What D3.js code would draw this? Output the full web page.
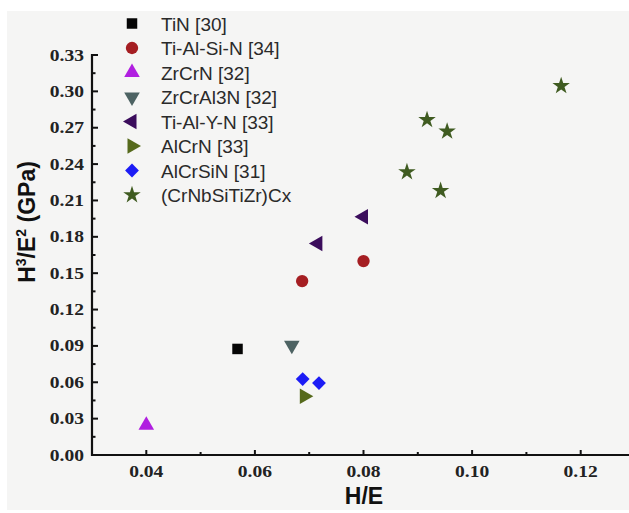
<!DOCTYPE html>
<html>
<head>
<meta charset="utf-8">
<script src="https://cdn.jsdelivr.net/npm/d3@7"></script>
<style>
  html, body { margin: 0; padding: 0; background: #fff; }
  svg { display: block; }
  .tick-label { font-family: "Liberation Serif", "Times New Roman", serif; font-weight: bold; font-size: 17px; fill: #222; }
  .axis-title { font-family: "Liberation Sans", Arial, sans-serif; font-weight: bold; font-size: 23px; fill: #111; }
  .legend-text { font-family: "Liberation Sans", Arial, sans-serif; font-size: 19px; fill: #2a2a2a; }
</style>
</head>
<body>
<div id="chart"></div>
<script>
// series
const seriesNames = ['TiN [30]', 'Ti-Al-Si-N [34]', 'ZrCrN [32]', 'ZrCrAl3N [32]', 'Ti-Al-Y-N [33]', 'AlCrN [33]', 'AlCrSiN [31]', '(CrNbSiTiZr)Cx'];
const seriesColors = ['#050505', '#a51e22', '#b01fe0', '#4d6363', '#3b0d5c', '#566a1c', '#1c1cf5', '#3f5b20'];
const seriesShapes = ['square', 'circle', 'up', 'down', 'left', 'right', 'diamond', 'star'];

// values (H/E, H^3/E^2)
const xValues = [
  [0.0568],
  [0.0687, 0.0800],
  [0.0400],
  [0.0668],
  [0.0716, 0.0800],
  [0.0691],
  [0.0688, 0.0718],
  [0.0880, 0.0917, 0.0954, 0.0942, 0.1164]
];
const yValues = [
  [0.0875],
  [0.1435, 0.1600],
  [0.0245],
  [0.0905],
  [0.1745, 0.1965],
  [0.0485],
  [0.0626, 0.0593],
  [0.2335, 0.2765, 0.2670, 0.2180, 0.3045]
];

const xTicks = [0.04, 0.06, 0.08, 0.10, 0.12];
const yTicks = [0, 0.03, 0.06, 0.09, 0.12, 0.15, 0.18, 0.21, 0.24, 0.27, 0.30, 0.33];

const width = 629;
const height = 513;

const x = d3.scaleLinear().domain([0.03, 0.13]).range([92, 635]);
const y = d3.scaleLinear().domain([0, 0.33]).range([455, 55]);

const svg = d3.select('#chart').append('svg')
  .attr('width', width)
  .attr('height', height);

// paper background
svg.append('rect')
  .attr('x', 7).attr('y', 11)
  .attr('width', width - 7).attr('height', 499)
  .attr('fill', '#f5f5f4');

// symbol helper
function symbolPath(shape) {
  const sym = d3.symbol();
  if (shape === 'square') return { d: sym.type(d3.symbolSquare).size(110)(), rot: 0 };
  if (shape === 'circle') return { d: sym.type(d3.symbolCircle).size(120)(), rot: 0 };
  if (shape === 'diamond') return { d: sym.type(d3.symbolSquare).size(95)(), rot: 45 };
  if (shape === 'star') return { d: sym.type(d3.symbolStar).size(95)(), rot: 0 };
  const tri = sym.type(d3.symbolTriangle).size(105)();
  const rot = { up: 0, down: 180, left: -90, right: 90 }[shape];
  return { d: tri, rot };
}

// y axis
const yAxis = svg.append('g');
yAxis.append('line')
  .attr('x1', x(0.03)).attr('x2', x(0.03))
  .attr('y1', y(0.33) - 1).attr('y2', y(0) + 1)
  .attr('stroke', '#111').attr('stroke-width', 2.2);
d3.range(0, 0.331, 0.015).forEach((v, i) => {
  yAxis.append('line')
    .attr('x1', x(0.03)).attr('x2', x(0.03) + (i % 2 === 0 ? 6 : 3.5))
    .attr('y1', y(v)).attr('y2', y(v))
    .attr('stroke', '#111').attr('stroke-width', 2);
});
yAxis.selectAll('text').data(yTicks).join('text')
  .attr('class', 'tick-label')
  .attr('text-anchor', 'end')
  .attr('transform', d => `translate(84, ${y(d) + 5.5}) scale(1.15, 1)`)
  .text(d3.format('.2f'));

// x axis
const xAxis = svg.append('g');
xAxis.append('line')
  .attr('x1', x(0.03) - 1).attr('x2', width)
  .attr('y1', y(0)).attr('y2', y(0))
  .attr('stroke', '#111').attr('stroke-width', 2.2);
d3.range(0.04, 0.13, 0.01).forEach((v, i) => {
  xAxis.append('line')
    .attr('x1', x(v)).attr('x2', x(v))
    .attr('y1', y(0)).attr('y2', y(0) - (i % 2 === 0 ? 5 : 3))
    .attr('stroke', '#111').attr('stroke-width', 2);
});
xAxis.selectAll('text').data(xTicks).join('text')
  .attr('class', 'tick-label')
  .attr('text-anchor', 'middle')
  .attr('transform', d => `translate(${x(d)}, 477) scale(1.15, 1)`)
  .text(d3.format('.2f'));

// axis titles
svg.append('text')
  .attr('class', 'axis-title')
  .attr('x', 364).attr('y', 504)
  .attr('font-size', 20)
  .attr('text-anchor', 'middle')
  .text('H/E');

const yTitle = svg.append('text')
  .attr('class', 'axis-title')
  .attr('text-anchor', 'middle')
  .attr('transform', 'translate(35, 222) rotate(-90)');
yTitle.append('tspan').text('H');
yTitle.append('tspan').attr('dy', -9).attr('font-size', 14).text('3');
yTitle.append('tspan').attr('dy', 9).text('/E');
yTitle.append('tspan').attr('dy', -9).attr('font-size', 14).text('2');
yTitle.append('tspan').attr('dy', 9).text(' (GPa)');

// points
const $points = svg.append('g');
seriesNames.forEach((name, s) => {
  const sp = symbolPath(seriesShapes[s]);
  const pts = xValues[s].map((xv, i) => ({ x: xv, y: yValues[s][i] }));
  $points.selectAll(`.pt-${s}`).data(pts).join('path')
    .attr('class', `pt-${s}`)
    .attr('d', sp.d)
    .attr('transform', d => `translate(${x(d.x)}, ${y(d.y)}) rotate(${sp.rot})`)
    .attr('fill', seriesColors[s]);
});

// legend
const $legend = svg.append('g');
seriesNames.forEach((name, s) => {
  const ly = 23.5 + s * 24.5;
  const sp = symbolPath(seriesShapes[s]);
  $legend.append('path')
    .attr('d', sp.d)
    .attr('transform', `translate(132, ${ly}) rotate(${sp.rot})`)
    .attr('fill', seriesColors[s]);
  $legend.append('text')
    .attr('class', 'legend-text')
    .attr('x', 161)
    .attr('y', ly + 7)
    .text(name);
});
</script>
</body>
</html>
